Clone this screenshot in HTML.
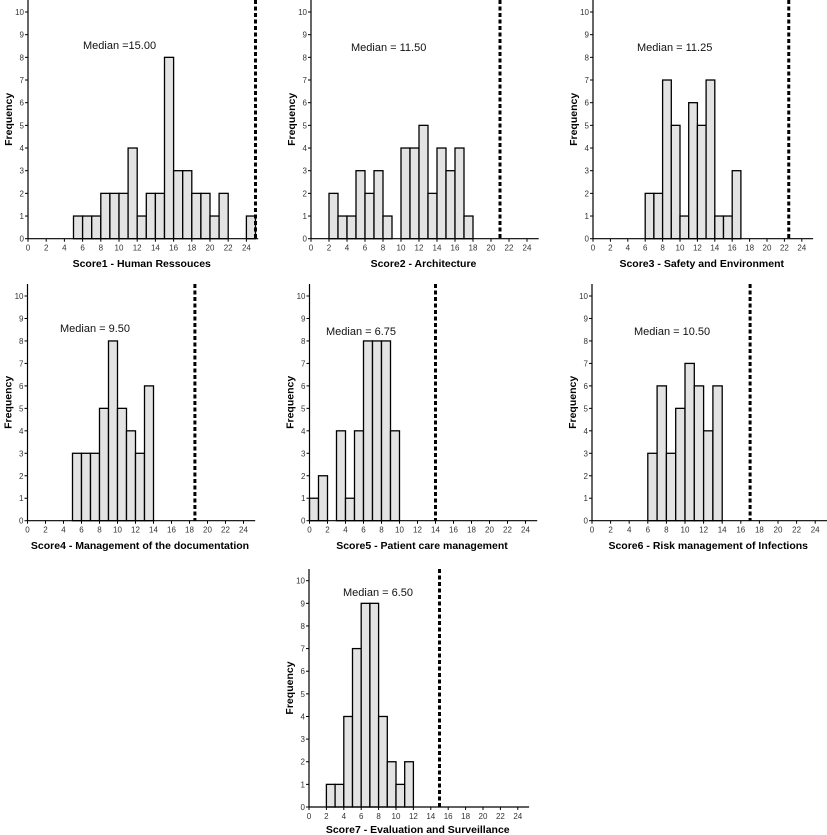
<!DOCTYPE html>
<html><head><meta charset="utf-8"><style>
body{margin:0;background:#fff}
svg{display:block;font-family:"Liberation Sans",Arial,sans-serif}
</style></head><body>
<svg id="c" width="827" height="835"></svg>
<script>
const titles=["Score1 - Human Ressouces","Score2 - Architecture","Score3 - Safety and Environment","Score4 - Management of the documentation","Score5 - Patient care management","Score6 - Risk management of Infections","Score7 - Evaluation and Surveillance"];
const medians=["Median =15.00","Median = 11.50","Median = 11.25","Median = 9.50","Median = 6.75","Median = 10.50","Median = 6.50"];
const cutoffs=[25,21,22.5,18.6,14,17,15];
const binStart=[5,2,6,5,0,6,2];
const counts1=[1,1,1,2,2,2,4,1,2,2,8,3,3,2,2,1,2,0,0,1];
const counts2=[2,1,1,3,2,3,1,0,4,4,5,2,4,3,4,1];
const counts3=[2,2,7,5,1,6,5,7,1,1,3];
const counts4=[3,3,3,5,8,5,4,3,6];
const counts5=[1,2,0,4,1,4,8,8,8,4];
const counts6=[3,6,3,5,7,6,4,6];
const counts7=[1,1,4,7,9,9,4,2,1,2];
const allCounts=[counts1,counts2,counts3,counts4,counts5,counts6,counts7];
const xTicks=[0,2,4,6,8,10,12,14,16,18,20,22,24];
const yTicks=[0,1,2,3,4,5,6,7,8,9,10];
// layout (not data)
const L=[
 {ox:28,y0:238.7,y10:12,top:0,sx:9.1,mx:83,my:49,ty:267},
 {ox:311,y0:238.7,y10:12,top:0,sx:9.0,mx:351,my:51,ty:267},
 {ox:593,y0:238.7,y10:12,top:0,sx:8.7,mx:637,my:51,ty:267},
 {ox:27.5,y0:520.7,y10:296,top:284,sx:9.0,mx:60,my:332,ty:549},
 {ox:309.5,y0:520.7,y10:296,top:284,sx:9.0,mx:326,my:335,ty:549},
 {ox:592,y0:520.7,y10:296,top:284,sx:9.3,mx:634,my:335,ty:549},
 {ox:309,y0:807,y10:580.7,top:569,sx:8.7,mx:343,my:596,ty:833}
];
const NS="http://www.w3.org/2000/svg";
const svg=document.getElementById('c');
function mk(t,a,p){const e=document.createElementNS(NS,t);for(const k in a)e.setAttribute(k,a[k]);(p||svg).appendChild(e);return e;}
allCounts.forEach((counts,i)=>{
 const l=L[i];
 const X=v=>l.ox+v*l.sx;
 const Y=f=>l.y0+(l.y10-l.y0)*f/10;
 const g=mk('g',{});
 
 
 counts.forEach((c,j)=>{
  if(c<=0)return;
  const x0=X(binStart[i]+j),x1=X(binStart[i]+j+1);
  const r=mk('rect',{x:x0,y:Y(c),width:x1-x0,height:Y(0)-Y(c),fill:'#e3e3e3',stroke:'#000','stroke-width':1.3},g);
  
  
 });
 const xa=mk('line',{x1:l.ox,y1:Y(0),x2:X(25.3),y2:Y(0),stroke:'#000','stroke-width':1.2},g);
 
 
 const ya=mk('line',{x1:l.ox,y1:l.top,x2:l.ox,y2:Y(0),stroke:'#000','stroke-width':1.2},g);
 
 
 xTicks.forEach(t=>{
  mk('line',{x1:X(t),y1:Y(0),x2:X(t),y2:Y(0)+3,stroke:'#000'},g);
  const tx=mk('text',{x:X(t),y:Y(0)+12,'font-size':8,fill:'#333','text-anchor':'middle'},g);
  tx.textContent=t;
  
  
 });
 yTicks.forEach(t=>{
  mk('line',{x1:l.ox-3,y1:Y(t),x2:l.ox,y2:Y(t),stroke:'#000'},g);
  const tx=mk('text',{x:l.ox-4,y:Y(t)+3,'font-size':8,fill:'#333','text-anchor':'end'},g);
  tx.textContent=t;
  
  
 });
 const dl=mk('line',{x1:X(cutoffs[i]),y1:l.top,x2:X(cutoffs[i]),y2:Y(0),stroke:'#000','stroke-width':3,'stroke-dasharray':'4,2.5'},g);
 
 
 const mt=mk('text',{x:l.mx,y:l.my,'font-size':11,fill:'#111'},g);
 mt.textContent=medians[i];
 
 
 const xt=mk('text',{x:X(12.5),y:l.ty,'font-size':10.5,'font-weight':'bold','text-anchor':'middle'},g);
 xt.textContent=titles[i];
 
 
 const cy=(Y(0)+l.top)/2;
 const yt=mk('text',{x:l.ox-16,y:cy,'font-size':10.5,'font-weight':'bold','text-anchor':'middle',transform:`rotate(-90 ${l.ox-16} ${cy})`},g);
 yt.textContent='Frequency';
 
 
});
</script>
</body></html>
